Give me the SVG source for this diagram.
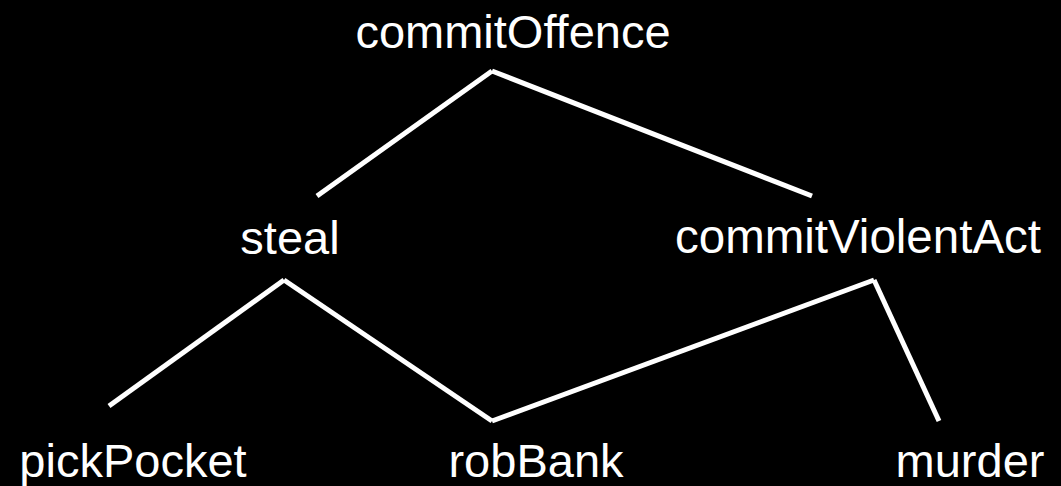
<svg xmlns="http://www.w3.org/2000/svg" width="1061" height="486" viewBox="0 0 1061 486">
  <style>
    .bg { fill: #000000; }
    .edge { stroke: #ffffff; stroke-width: 5; fill: none; stroke-linecap: butt; }
    .label { fill: #ffffff; font-family: "Liberation Sans", Arial, sans-serif; font-size: 47px; text-anchor: middle; }
  </style>
  <rect class="bg" x="0" y="0" width="1061" height="486"/>

  <!-- connectors -->
  <g id="connectors">
    <line class="edge" x1="492" y1="71" x2="317" y2="196"/>
    <line class="edge" x1="492" y1="71" x2="812" y2="196"/>
    <line class="edge" x1="284" y1="280" x2="109" y2="406"/>
    <line class="edge" x1="284" y1="280" x2="492" y2="421"/>
    <line class="edge" x1="874" y1="280" x2="492" y2="421"/>
    <line class="edge" x1="874" y1="280" x2="939" y2="421"/>
  </g>

  <!-- nodes -->
  <g id="commitOffence">
    <text class="label" x="513" y="48">commitOffence</text>
  </g>
  <g id="steal">
    <text class="label" x="290" y="254">steal</text>
  </g>
  <g id="commitViolentAct">
    <text class="label" x="858" y="253" style="font-size:47.5px">commitViolentAct</text>
  </g>
  <g id="pickPocket">
    <text class="label" x="133" y="477">pickPocket</text>
  </g>
  <g id="robBank">
    <text class="label" x="536" y="477">robBank</text>
  </g>
  <g id="murder">
    <text class="label" x="970" y="477">murder</text>
  </g>
</svg>
